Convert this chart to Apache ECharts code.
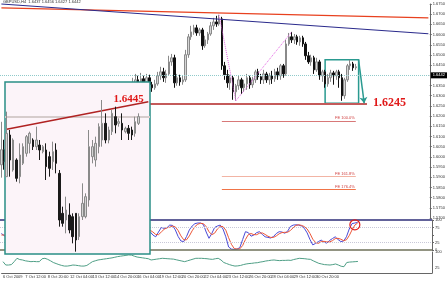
<!DOCTYPE html>
<html><head><meta charset="utf-8">
<script src="https://cdn.jsdelivr.net/npm/echarts@6/dist/echarts.min.js"></script>
<style>html,body{margin:0;padding:0;background:#fff}#c{width:448px;height:281px}</style>
</head><body><div id="c"></div>
<script>
const chartTitle = 'GBPUSD,H4  1.6437 1.6456 1.6427 1.6442';
const timeLabels = ['6 Oct 2009','7 Oct 12:00','8 Oct 20:00','12 Oct 04:00','13 Oct 12:00','14 Oct 20:00','16 Oct 04:00','19 Oct 12:00','20 Oct 20:00','22 Oct 04:00','23 Oct 12:00','26 Oct 20:00','28 Oct 04:00','29 Oct 12:00','30 Oct 20:00','3 Nov 04:00'];
// [open, close, low, high]
const mainOHLC = [
[1.5961,1.6035,1.5898,1.6172],[1.6035,1.5976,1.5937,1.6084],[1.5976,1.6010,1.5947,1.6045],[1.6010,1.5947,1.5913,1.6035],
[1.5947,1.5986,1.5927,1.6010],[1.5986,1.5996,1.5957,1.6035],[1.5996,1.5937,1.5908,1.6015],[1.5937,1.5908,1.5878,1.5961],
[1.5908,1.5947,1.5888,1.5986],[1.5947,1.5927,1.5898,1.5976],[1.5927,1.5888,1.5859,1.5947],[1.5888,1.5913,1.5868,1.5937],
[1.5913,1.5864,1.5839,1.5927],[1.5864,1.5878,1.5839,1.5908],[1.5878,1.5839,1.5815,1.5898],[1.5839,1.5859,1.5819,1.5888],
[1.5859,1.5810,1.5790,1.5878],[1.5810,1.5829,1.5780,1.5849],[1.5829,1.5790,1.5766,1.5849],[1.5790,1.5761,1.5741,1.5810],
[1.5761,1.5800,1.5731,1.5819],[1.5800,1.5766,1.5741,1.5829],[1.5766,1.5741,1.5721,1.5790],[1.5741,1.5780,1.5721,1.5800],
[1.5780,1.5810,1.5770,1.5829],[1.5810,1.5790,1.5770,1.5839],[1.5790,1.5849,1.5780,1.5868],[1.5849,1.5888,1.5829,1.5908],
[1.5888,1.5986,1.5868,1.6010],[1.5986,1.6084,1.5966,1.6109],[1.6084,1.6133,1.6060,1.6157],[1.6133,1.6113,1.6084,1.6162],
[1.6113,1.6182,1.6094,1.6202],[1.6182,1.6221,1.6153,1.6251],[1.6221,1.6202,1.6172,1.6251],[1.6202,1.6241,1.6182,1.6270],
[1.6241,1.6260,1.6221,1.6290],[1.6260,1.6231,1.6202,1.6280],[1.6231,1.6270,1.6211,1.6300],[1.6270,1.6290,1.6251,1.6319],
[1.6290,1.6260,1.6241,1.6309],[1.6260,1.6280,1.6241,1.6300],[1.6280,1.6305,1.6260,1.6329],[1.6305,1.6290,1.6270,1.6339],
[1.6290,1.6319,1.6280,1.6349],[1.6319,1.6309,1.6290,1.6349],[1.6309,1.6339,1.6300,1.6358],[1.6339,1.6358,1.6319,1.6388],
[1.6358,1.6378,1.6339,1.6407],[1.6378,1.6358,1.6329,1.6398],[1.6358,1.6383,1.6349,1.6412],[1.6383,1.6368,1.6339,1.6398],
[1.6368,1.6388,1.6349,1.6407],[1.6388,1.6354,1.6329,1.6403],[1.6354,1.6339,1.6319,1.6368],[1.6339,1.6358,1.6329,1.6378],
[1.6358,1.6398,1.6349,1.6417],[1.6398,1.6417,1.6378,1.6442],[1.6417,1.6388,1.6368,1.6437],[1.6388,1.6407,1.6363,1.6427],
[1.6407,1.6466,1.6398,1.6496],[1.6466,1.6486,1.6447,1.6505],[1.6486,1.6363,1.6339,1.6501],[1.6363,1.6388,1.6349,1.6407],
[1.6388,1.6368,1.6349,1.6403],[1.6368,1.6378,1.6354,1.6398],[1.6378,1.6501,1.6368,1.6525],[1.6501,1.6589,1.6486,1.6603],
[1.6589,1.6613,1.6574,1.6643],[1.6613,1.6633,1.6599,1.6648],[1.6633,1.6608,1.6594,1.6648],[1.6608,1.6623,1.6594,1.6633],
[1.6623,1.6545,1.6525,1.6633],[1.6545,1.6574,1.6535,1.6594],[1.6574,1.6603,1.6554,1.6613],[1.6603,1.6643,1.6594,1.6662],
[1.6643,1.6662,1.6623,1.6682],[1.6662,1.6652,1.6638,1.6692],[1.6652,1.6677,1.6643,1.6697],[1.6677,1.6447,1.6427,1.6687],
[1.6447,1.6403,1.6378,1.6466],[1.6403,1.6363,1.6339,1.6427],[1.6363,1.6388,1.6329,1.6403],[1.6388,1.6319,1.6280,1.6398],
[1.6319,1.6349,1.6275,1.6358],[1.6349,1.6378,1.6329,1.6398],[1.6378,1.6339,1.6309,1.6388],[1.6339,1.6358,1.6319,1.6378],
[1.6358,1.6388,1.6329,1.6407],[1.6388,1.6354,1.6334,1.6398],[1.6354,1.6378,1.6339,1.6393],[1.6378,1.6417,1.6363,1.6427],
[1.6417,1.6393,1.6378,1.6432],[1.6393,1.6378,1.6358,1.6407],[1.6378,1.6407,1.6358,1.6427],[1.6407,1.6378,1.6363,1.6417],
[1.6378,1.6398,1.6354,1.6412],[1.6398,1.6383,1.6358,1.6422],[1.6383,1.6417,1.6368,1.6432],[1.6417,1.6398,1.6378,1.6437],
[1.6398,1.6447,1.6378,1.6456],[1.6447,1.6407,1.6388,1.6456],[1.6407,1.6554,1.6398,1.6574],[1.6554,1.6589,1.6545,1.6608],
[1.6589,1.6574,1.6559,1.6613],[1.6574,1.6589,1.6554,1.6603],[1.6589,1.6564,1.6550,1.6599],[1.6564,1.6584,1.6545,1.6594],
[1.6584,1.6554,1.6540,1.6594],[1.6554,1.6496,1.6476,1.6564],[1.6496,1.6466,1.6456,1.6515],[1.6466,1.6486,1.6447,1.6501],
[1.6486,1.6427,1.6407,1.6496],[1.6427,1.6466,1.6417,1.6486],[1.6466,1.6398,1.6378,1.6476],[1.6398,1.6417,1.6368,1.6427],
[1.6417,1.6358,1.6339,1.6427],[1.6358,1.6388,1.6344,1.6407],[1.6388,1.6412,1.6368,1.6427],[1.6412,1.6398,1.6354,1.6422],
[1.6398,1.6417,1.6378,1.6427],[1.6417,1.6388,1.6339,1.6427],[1.6388,1.6300,1.6275,1.6407],[1.6300,1.6378,1.6285,1.6388],
[1.6378,1.6447,1.6368,1.6456],[1.6447,1.6456,1.6427,1.6476],[1.6456,1.6437,1.6422,1.6466],[1.6437,1.6442,1.6427,1.6456]
];
const stochMain = [55,48,40,35,42,50,38,25,30,28,20,25,18,22,15,20,12,18,10,8,20,15,10,22,35,30,50,65,80,90,92,85,90,94,88,90,88,75,80,85,72,70,78,74,80,76,82,86,84,72,78,68,70,
61,50,44,60,75,72,74,83,82,67,45,30,28,45,67,80,88,90,90,85,60,39,55,75,80,83,70,44,10,3,2,3,8,35,61,58,46,50,58,61,52,44,42,40,45,55,61,60,56,62,78,83,84,83,80,72,57,35,17,22,28,33,26,23,32,38,44,35,28,30,44,70,88,90,92];
const stochSignal = [50,50,47,41,39,42,43,38,31,28,26,24,21,22,18,19,16,17,13,12,13,14,15,16,22,29,38,48,65,78,87,89,89,90,91,91,89,84,81,80,79,76,73,74,77,77,79,81,84,81,78,73,72,
66,60,52,51,60,69,74,76,80,77,65,47,34,34,47,64,78,86,89,88,78,61,51,56,70,79,78,66,41,19,5,3,4,15,35,51,55,51,51,56,57,52,46,42,42,47,54,58,59,59,65,74,82,84,82,78,70,55,36,25,22,28,29,27,27,31,38,39,36,31,34,48,67,83,90];
const lowerIndicator = [54,38,38,40,54,70,64,62,58,56,54,55,54,54,68,70,65,58,50,45,40,36,33,33,35,38,37,35,33,33,36,45,54,58,62,64,66,68,70,72,75,78,80,82,84,86,85,80,76,74,72,70,68,
62,64,66,68,70,69,68,67,66,63,60,57,54,58,62,66,70,70,70,69,68,66,65,68,70,62,50,45,40,36,33,34,36,40,43,45,46,48,49,52,54,57,59,61,62,60,59,60,60,61,60,64,67,70,69,68,66,65,58,52,46,43,40,39,38,40,43,38,32,30,50,52,53,54,55];
const insetOHLC = [
[1.6220,1.6350,1.6220,1.6415],[1.6345,1.6270,1.6220,1.6360],[1.6240,1.6330,1.6235,1.6335],[1.6270,1.6215,1.6205,1.6275],
[1.6220,1.6285,1.6200,1.6320],[1.6260,1.6310,1.6255,1.6320],[1.6290,1.6340,1.6280,1.6345],[1.6320,1.6350,1.6290,1.6355],
[1.6330,1.6310,1.6300,1.6335],[1.6310,1.6330,1.6300,1.6370],[1.6315,1.6300,1.6270,1.6330],[1.6295,1.6310,1.6290,1.6315],
[1.6300,1.6250,1.6210,1.6320],[1.6280,1.6245,1.6220,1.6295],[1.6265,1.6295,1.6240,1.6325],[1.6300,1.6260,1.6230,1.6320],
[1.6230,1.6090,1.6070,1.6240],[1.6110,1.6080,1.6070,1.6130],[1.6090,1.6120,1.6050,1.6160],[1.6105,1.6060,1.6050,1.6140],
[1.6100,1.6040,1.6020,1.6110],[1.6110,1.6030,1.5995,1.6110],[1.6040,1.6100,1.6030,1.6110],[1.6100,1.6140,1.6090,1.6200],
[1.6100,1.6160,1.6095,1.6170],[1.6150,1.6310,1.6130,1.6360],[1.6280,1.6310,1.6260,1.6330],[1.6270,1.6320,1.6250,1.6340],
[1.6310,1.6370,1.6290,1.6380],[1.6330,1.6380,1.6310,1.6450],[1.6380,1.6330,1.6320,1.6410],[1.6330,1.6360,1.6320,1.6370],
[1.6355,1.6410,1.6345,1.6420],[1.6400,1.6375,1.6350,1.6430],[1.6380,1.6385,1.6370,1.6395],[1.6380,1.6360,1.6330,1.6410],
[1.6355,1.6365,1.6350,1.6370],[1.6365,1.6350,1.6330,1.6375],[1.6360,1.6345,1.6330,1.6370],[1.6350,1.6385,1.6340,1.6400],
[1.6380,1.6400,1.6375,1.6410]
];
const currentPrice = 1.6442;
const trendRed = [1.6731, 1.6682];
const trendBlue = [1.6750, 1.6604];
const supportValue = 1.6263, supportText = '1.6245';
const fibLevels = [1.6176, 1.5904, 1.5839];
const fibNames = ['FE 100.0%', 'FE 161.8%', 'FE 176.4%'];
const fibColors = ['#d87878', '#f2b4a4', '#f07448'];
const zigzag = [[78, 1.6697], [84, 1.6275], [104, 1.6613]];
const boxRange = [[116, 1.6476], [128, 1.6263]];
const arrowRange = [[128, 1.6476], [130, 1.6263]];
const insetTrend = [1.6362, 1.6445], insetTrendText = '1.6445';
const insetCurrent = 1.6399;

const N = 154;
const cats = Array.from({length: N}, (_, i) => String(i));
const insetCats = Array.from({length: 44}, (_, i) => String(i));
const tickShow = (i) => i % 8 === 0 && i / 8 < timeLabels.length;
const small = {fontSize: 4, color: '#333', fontFamily: 'Liberation Sans'};
const redLabel = {color: '#e01818', fontWeight: 'bold', fontSize: 12, fontFamily: 'Liberation Serif'};

const option = {
  animation: false,
  backgroundColor: '#fff',
  title: {text: chartTitle, left: 3, top: 0, padding: 0, textStyle: {fontSize: 4, fontWeight: 'normal', color: '#333', fontFamily: 'Liberation Sans'}},
  grid: [
    {left: 0, top: 4, width: 432, height: 214},
    {left: 0, top: 220, width: 432, height: 30},
    {left: 0, top: 252, width: 432, height: 21},
    {left: 5, top: 82, width: 145, height: 172, show: true, z: 10, backgroundColor: '#fcf4f9', borderColor: '#2a8f86', borderWidth: 1.5}
  ],
  xAxis: [
    {gridIndex: 0, type: 'category', data: cats, show: false},
    {gridIndex: 1, type: 'category', data: cats, show: false},
    {gridIndex: 2, type: 'category', data: cats,
      axisLine: {lineStyle: {color: '#666'}},
      axisTick: {alignWithLabel: true, interval: tickShow, length: 2, lineStyle: {color: '#666'}},
      axisLabel: Object.assign({interval: tickShow, showMinLabel: true, formatter: (v, i) => timeLabels[i / 8] || '', align: 'left', margin: 2}, small)},
    {gridIndex: 3, type: 'category', data: insetCats, show: false}
  ],
  yAxis: [
    {gridIndex: 0, type: 'value', position: 'right', min: 1.57, max: 1.675, interval: 0.005, splitLine: {show: false},
      axisLine: {show: true, lineStyle: {color: '#666'}}, axisTick: {show: true, length: 2},
      axisLabel: Object.assign({margin: 3, formatter: v => v.toFixed(4)}, small)},
    {gridIndex: 1, type: 'value', position: 'right', min: 0, max: 100, interval: 25, splitLine: {show: false},
      axisLine: {show: true, lineStyle: {color: '#666'}}, axisTick: {show: true, length: 2},
      axisLabel: Object.assign({margin: 3, formatter: v => v === 50 ? '' : String(v)}, small)},
    {gridIndex: 2, type: 'value', position: 'right', min: 0, max: 100, interval: 25, splitLine: {show: false},
      axisLine: {show: true, lineStyle: {color: '#666'}}, axisTick: {show: false},
      axisLabel: Object.assign({margin: 3, formatter: v => (v === 100 || v === 25) ? String(v) : ''}, small)},
    {gridIndex: 3, type: 'value', min: 1.5988, max: 1.6504, show: false}
  ],
  series: [
    {type: 'candlestick', xAxisIndex: 0, yAxisIndex: 0, data: mainOHLC, barWidth: 2,
      itemStyle: {color: '#d6d6d6', color0: '#111', borderColor: '#8a8a8a', borderColor0: '#111', borderWidth: 1},
      markLine: {silent: true, symbol: 'none', label: {show: false}, animation: false,
        data: [
          [{coord: [0, trendRed[0]], lineStyle: {color: '#e8401e', width: 1.2, type: 'solid'}}, {coord: [N - 1, trendRed[1]]}],
          [{coord: [0, trendBlue[0]], lineStyle: {color: '#2b2b8c', width: 1.2, type: 'solid'}}, {coord: [N - 1, trendBlue[1]]}],
          [{coord: zigzag[0], lineStyle: {color: '#e466e4', width: 1, type: 'dotted'}}, {coord: zigzag[1]}],
          [{coord: zigzag[1], lineStyle: {color: '#e466e4', width: 1, type: 'dotted'}}, {coord: zigzag[2]}],
          {yAxis: currentPrice, lineStyle: {color: '#8fcaca', width: 1, type: 'dotted'},
            label: {show: true, position: 'end', distance: 1, formatter: currentPrice.toFixed(4), color: '#fff', backgroundColor: '#000', padding: [1, 2], fontSize: 4}},
          [{coord: [53, supportValue], lineStyle: {color: '#c45a5a', width: 2, type: 'solid'},
            label: Object.assign({show: true, position: 'end', distance: 6, formatter: supportText}, redLabel)}, {coord: [131, supportValue]}],
          ...fibLevels.map((v, k) => [
            {coord: [79, v], lineStyle: {color: fibColors[k], width: 1.2, type: 'solid'},
              label: {show: true, position: 'insideEndTop', distance: 1, formatter: fibNames[k], fontSize: 4, color: '#d04040'}},
            {coord: [127, v]}]),
          [{coord: arrowRange[0], lineStyle: {color: '#2a9a90', width: 1.5, type: 'solid'}, symbol: 'none'},
           {coord: arrowRange[1], symbol: 'arrow', symbolSize: 6}]
        ]},
      markArea: {silent: true, itemStyle: {color: 'rgba(0,0,0,0)', borderColor: '#2a9a90', borderWidth: 1.5},
        data: [[{coord: boxRange[0]}, {coord: boxRange[1]}]]}
    },
    {type: 'line', xAxisIndex: 1, yAxisIndex: 1, data: stochMain, showSymbol: false, lineStyle: {color: '#4b4bd6', width: 1}, itemStyle: {color: '#4b4bd6'},
      markLine: {silent: true, symbol: 'none', label: {show: false},
        data: [
          {yAxis: 100, lineStyle: {color: '#2e2e78', width: 1.5, type: 'solid'}},
          {yAxis: 0, lineStyle: {color: '#6e7058', width: 1.5, type: 'solid'}},
          {yAxis: 75, lineStyle: {color: '#c8c8d8', width: 1, type: 'dotted'}},
          {yAxis: 25, lineStyle: {color: '#c8c8d8', width: 1, type: 'dotted'}}
        ]},
      markPoint: {silent: true, data: [{coord: [126, 84], symbol: 'circle', symbolSize: 10,
        itemStyle: {color: 'rgba(0,0,0,0)', borderColor: '#e02020', borderWidth: 1.2}, label: {show: false}}]}
    },
    {type: 'line', xAxisIndex: 1, yAxisIndex: 1, data: stochSignal, showSymbol: false, lineStyle: {color: '#ec5638', width: 1}, itemStyle: {color: '#ec5638'}},
    {type: 'line', xAxisIndex: 2, yAxisIndex: 2, data: lowerIndicator, showSymbol: false, lineStyle: {color: '#4f9f86', width: 1}, itemStyle: {color: '#4f9f86'}},
    {type: 'candlestick', xAxisIndex: 3, yAxisIndex: 3, data: insetOHLC, barWidth: 2, z: 12,
      itemStyle: {color: '#d4d4d4', color0: '#1a1a1a', borderColor: '#8a8a8a', borderColor0: '#1a1a1a', borderWidth: 1},
      markLine: {silent: true, symbol: 'none', label: {show: false}, z: 12,
        data: [
          {yAxis: insetCurrent, lineStyle: {color: '#d6cccc', width: 2, type: 'solid'}},
          [{coord: [0, insetTrend[0]], lineStyle: {color: '#b02222', width: 1.5, type: 'solid'}}, {coord: [43, insetTrend[1]]}]
        ]},
      markPoint: {silent: true, z: 13, data: [{coord: [37, 1.6452], symbol: 'circle', symbolSize: 0,
        label: Object.assign({show: true, position: 'inside', formatter: insetTrendText}, redLabel, {fontSize: 11})}]}
    }
  ]
};
const chart = echarts.init(document.getElementById('c'));
chart.setOption(option);
</script></body></html>
